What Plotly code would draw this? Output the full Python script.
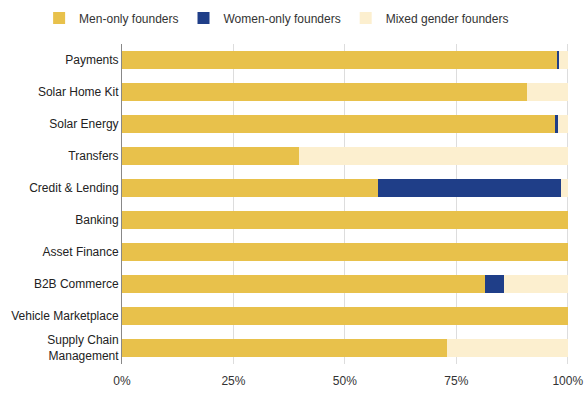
import plotly.graph_objects as go

categories = ["Payments", "Solar Home Kit", "Solar Energy", "Transfers", "Credit & Lending",
              "Banking", "Asset Finance", "B2B Commerce", "Vehicle Marketplace",
              "Supply Chain<br>Management"]
men_only = [97.5, 90.8, 97.3, 39.7, 57.4, 100, 100, 81.5, 100, 72.9]
women_only = [0.5, 0, 0.4, 0, 41.0, 0, 0, 4.2, 0, 0]
mixed = [2.0, 9.2, 2.3, 60.3, 1.6, 0, 0, 14.3, 0, 27.1]
tick_vals = [0, 25, 50, 75, 100]
tick_text = ["0%", "25%", "50%", "75%", "100%"]

fig = go.Figure()
for name, vals, color in [("Men-only founders", men_only, "#E8C14B"),
                          ("Women-only founders", women_only, "#1F3E88"),
                          ("Mixed gender founders", mixed, "#FCEFCF")]:
    fig.add_trace(go.Bar(y=categories, x=vals, name=name, orientation="h",
                         marker=dict(color=color, line=dict(width=0))))

fig.update_layout(
    barmode="stack",
    bargap=0.44,
    width=585, height=394,
    margin=dict(l=122, r=15, t=44, b=30, autoexpand=False),
    paper_bgcolor="white", plot_bgcolor="white",
    font=dict(family="Liberation Sans, Arial, sans-serif", size=12, color="#222"),
    legend=dict(orientation="h", x=-0.185, xanchor="left", y=1.036, yanchor="bottom",
                font=dict(size=12, color="#333"), traceorder="normal"),
    xaxis=dict(range=[0, 100.5], tickvals=tick_vals, ticktext=tick_text,
               showgrid=True, gridcolor="#DDDDDD", gridwidth=1, zeroline=False,
               automargin=False, ticklabelstandoff=8,
               tickfont=dict(size=12, color="#333"), fixedrange=True),
    yaxis=dict(autorange="reversed", showline=True, linecolor="#888", linewidth=1,
               ticks="", automargin=False, tickfont=dict(size=12, color="#222")),
)
fig.write_html("out.html", config={"displayModeBar": False},
               post_script="document.body.style.margin='0';")
